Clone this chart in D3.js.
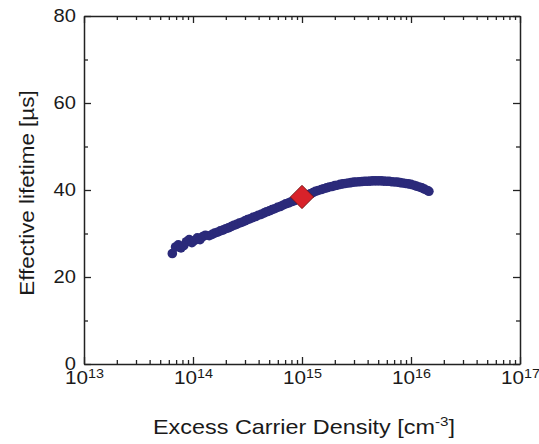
<!DOCTYPE html>
<html><head><meta charset="utf-8">
<script src="https://cdn.jsdelivr.net/npm/d3@7"></script>
<style>
body{margin:0;background:#fff}
svg{display:block}
text{font-family:"Liberation Sans",Arial,sans-serif;fill:#1a1a1a}
</style>
</head><body><svg id="c" width="539" height="444"></svg>
<script>
// ---- data ----
const density = [
  6.46e13,6.92e13,7.33e13,7.76e13,8.22e13,8.71e13,9.23e13,9.77e13,1.035e14,1.096e14,1.161e14,1.23e14,1.30e14,
  1.41e14,1.50e14,1.58e14,1.68e14,1.78e14,1.88e14,2.00e14,2.11e14,2.24e14,2.37e14,2.51e14,2.66e14,2.82e14,2.99e14,
  3.16e14,3.35e14,3.55e14,3.76e14,3.98e14,4.22e14,4.47e14,4.73e14,5.01e14,5.31e14,5.62e14,5.96e14,6.31e14,6.68e14,
  7.08e14,7.50e14,7.94e14,8.41e14,8.91e14,9.44e14,1.00e15,1.06e15,1.12e15,1.19e15,1.26e15,1.33e15,1.41e15,1.50e15,
  1.58e15,1.68e15,1.78e15,1.88e15,2.00e15,2.11e15,2.24e15,2.37e15,2.51e15,2.66e15,2.82e15,2.99e15,3.16e15,3.35e15,
  3.55e15,3.76e15,3.98e15,4.22e15,4.47e15,4.73e15,5.01e15,5.31e15,5.62e15,5.96e15,6.31e15,6.68e15,7.08e15,7.50e15,
  7.94e15,8.41e15,8.91e15,9.44e15,1.00e16,1.06e16,1.12e16,1.19e16,1.26e16,1.33e16,1.41e16,1.46e16
];
const lifetime = [
  25.4,26.9,27.4,26.7,27.2,28.1,28.6,27.9,28.4,29.0,28.6,29.3,29.6,
  29.5,29.8,30.1,30.3,30.6,30.8,31.1,31.3,31.6,31.9,32.1,32.4,32.6,32.9,
  33.2,33.4,33.7,33.9,34.2,34.4,34.7,35.0,35.2,35.5,35.7,36.0,36.2,36.5,
  36.8,37.0,37.3,37.5,37.8,38.0,38.3,38.6,38.9,39.1,39.4,39.7,39.9,40.1,
  40.3,40.5,40.7,40.8,41.0,41.1,41.3,41.4,41.5,41.6,41.7,41.8,41.85,41.9,
  41.95,42.0,42.0,42.05,42.1,42.1,42.1,42.1,42.05,42.0,42.0,41.9,41.85,41.8,
  41.7,41.6,41.5,41.4,41.3,41.1,40.9,40.7,40.5,40.2,39.9,39.7
];
const markerDensity = [1e15];
const markerLifetime = [38.4];
const xMajorTicks = [1e13,1e14,1e15,1e16,1e17];
const xTickExponents = ["13","14","15","16","17"];
const yMajorTicks = [0,20,40,60,80];
const yMinorTicks = [10,30,50,70];
const xTitleMain = "Excess Carrier Density [cm";
const xTitleSup = "-3";
const xTitleEnd = "]";
const yTitle = "Effective lifetime [\u00B5s]";

// ---- layout ----
const W = 539, H = 444;
const m = {l:84, r:19, t:16, b:80};
const svg = d3.select("#c");
const x = d3.scaleLog().domain([1e13,1e17]).range([m.l, W - m.r]);
const y = d3.scaleLinear().domain([0,80]).range([H - m.b, m.t]);
const xMinorTicks = x.ticks().filter(v => !xMajorTicks.some(t => Math.abs(t - v) / t < 1e-9));

const ink = "#222";
function styleAxis(g, keepDomain){
  g.selectAll(".tick line").attr("stroke", ink).attr("stroke-width", 1.3);
  if (keepDomain) g.select(".domain").attr("stroke", ink).attr("stroke-width", 1.5);
  else g.select(".domain").remove();
}

// bottom
const gxb = svg.append("g").attr("transform", `translate(0,${y(0)})`)
  .call(d3.axisBottom(x).tickValues(xMajorTicks).tickSize(-7).tickSizeOuter(0).tickPadding(0));
styleAxis(gxb, true);
gxb.selectAll(".tick text").each(function(d, i){
  const t = d3.select(this);
  t.text(null).attr("y", 20.5).attr("dy", 0).attr("font-size", 18)
   .attr("transform", "scale(1.15,1)").attr("fill", "#1a1a1a");
  t.append("tspan").text("10");
  t.append("tspan").attr("font-size", 12.5).attr("dy", -6).text(xTickExponents[i]);
});
svg.append("g").attr("transform", `translate(0,${y(0)})`)
  .call(d3.axisBottom(x).tickValues(xMinorTicks).tickSize(-4).tickFormat(""))
  .call(g => styleAxis(g, false));
// top
svg.append("g").attr("transform", `translate(0,${y(80)})`)
  .call(d3.axisTop(x).tickValues(xMajorTicks).tickSize(-7).tickSizeOuter(0).tickFormat(""))
  .call(g => styleAxis(g, true));
svg.append("g").attr("transform", `translate(0,${y(80)})`)
  .call(d3.axisTop(x).tickValues(xMinorTicks).tickSize(-4).tickFormat(""))
  .call(g => styleAxis(g, false));
// left
const gyl = svg.append("g").attr("transform", `translate(${x(1e13)},0)`)
  .call(d3.axisLeft(y).tickValues(yMajorTicks).tickSize(-7).tickSizeOuter(0).tickPadding(8).tickFormat(d3.format("d")));
styleAxis(gyl, true);
gyl.selectAll(".tick text").attr("font-size", 17.5).attr("fill", "#1a1a1a")
  .attr("x", -7).attr("dy", "0.3em").attr("transform", "scale(1.15,1)");
svg.append("g").attr("transform", `translate(${x(1e13)},0)`)
  .call(d3.axisLeft(y).tickValues(yMinorTicks).tickSize(-4).tickFormat(""))
  .call(g => styleAxis(g, false));
// right
svg.append("g").attr("transform", `translate(${x(1e17)},0)`)
  .call(d3.axisRight(y).tickValues(yMajorTicks).tickSize(-7).tickSizeOuter(0).tickFormat(""))
  .call(g => styleAxis(g, true));
svg.append("g").attr("transform", `translate(${x(1e17)},0)`)
  .call(d3.axisRight(y).tickValues(yMinorTicks).tickSize(-4).tickFormat(""))
  .call(g => styleAxis(g, false));

svg.selectAll("g text").attr("font-family", '"Liberation Sans",Arial,sans-serif');

// ---- data points ----
const pts = density.map((d, i) => ({n: d, tau: lifetime[i]}));
svg.append("g").selectAll("circle").data(pts).join("circle")
  .attr("cx", d => x(d.n)).attr("cy", d => y(d.tau)).attr("r", 4.8)
  .attr("fill", "#2b2a7a");

// ---- marker ----
const mk = markerDensity.map((d, i) => ({n: d, tau: markerLifetime[i]}));
svg.append("g").selectAll("path").data(mk).join("path")
  .attr("d", d3.symbol().type(d3.symbolSquare).size(16.5 * 16.5))
  .attr("transform", d => `translate(${x(d.n)},${y(d.tau)}) rotate(45)`)
  .attr("fill", "#d8222a").attr("stroke", "#6a1515").attr("stroke-width", 0.8);

// ---- titles ----
const xt = svg.append("text").attr("transform", "translate(304,434) scale(1.17,1)")
  .attr("text-anchor", "middle").attr("font-size", 20);
xt.append("tspan").text(xTitleMain);
xt.append("tspan").attr("font-size", 13).attr("dy", -8).text(xTitleSup);
xt.append("tspan").attr("dy", 8).text(xTitleEnd);

svg.append("text").attr("transform", "translate(34,193) rotate(-90) scale(1.12,1)")
  .attr("text-anchor", "middle").attr("font-size", 20).text(yTitle);
</script>
</body></html>
